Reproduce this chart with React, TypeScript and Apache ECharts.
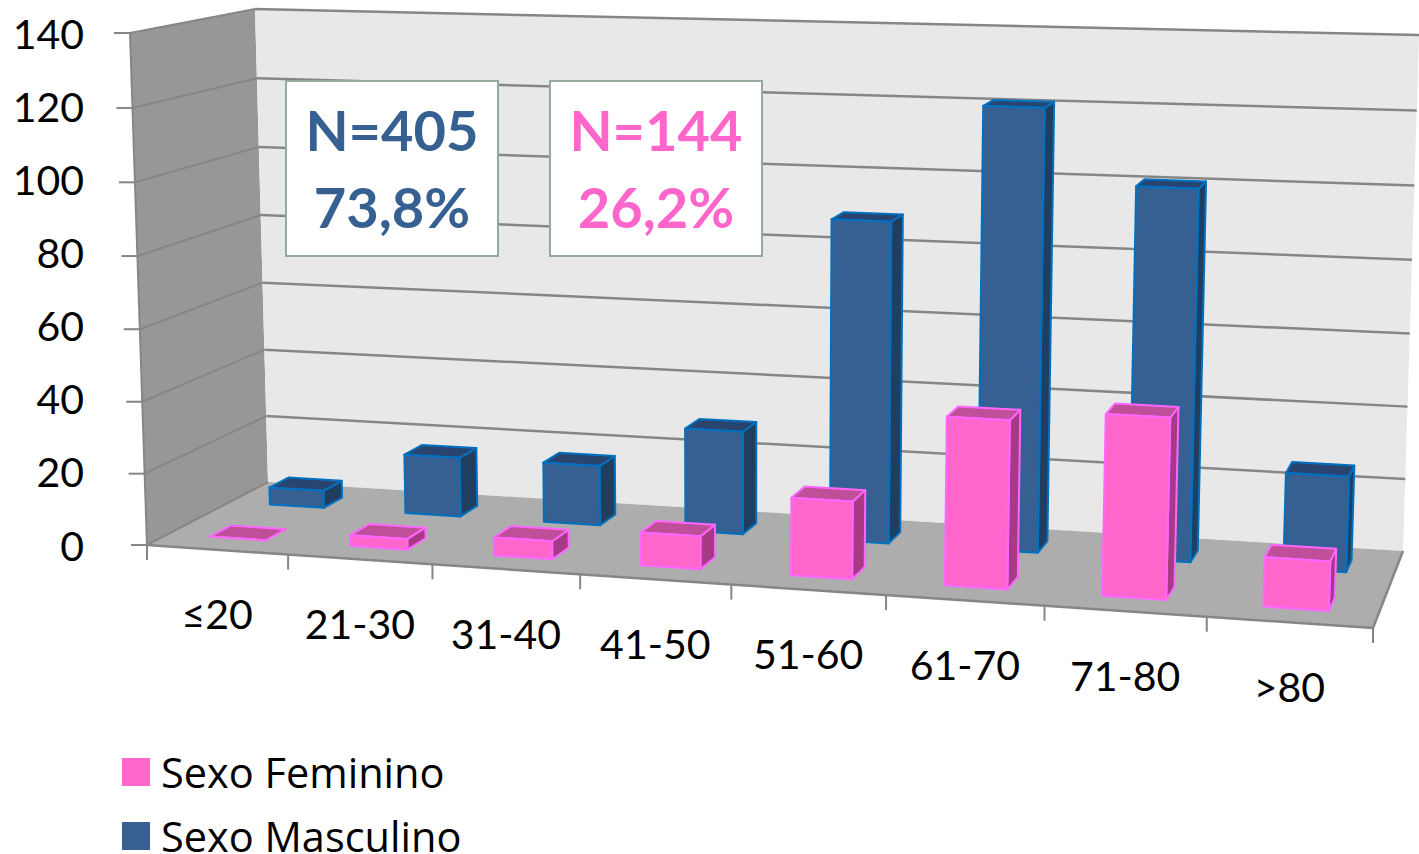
import React, { useEffect, useRef } from "react";
import * as echarts from "echarts";

const categories = ["≤20", "21-30", "31-40", "41-50", "51-60", "61-70", "71-80", ">80"];
const femaleValues = [0, 3, 5, 9, 21, 45, 48, 13];
const maleValues = [5, 17, 17, 29, 89, 121, 101, 26];
const yTicks = [0, 20, 40, 60, 80, 100, 120, 140];
const seriesNames = ["Sexo Feminino", "Sexo Masculino"];

const FONT = "Lato";
const LEGEND_FONT = "Open Sans";
const W = 1419, H = 854;
const G = { left: 130, right: 46, top: 33, bottom: 309 };

// corners of the chart box as seen in the picture: [front-left, front-right, back-right, back-left]
const FLOOR: number[][] = [[147, 545], [1373, 628], [1403, 551], [268, 482]];
const CEIL: number[][] = [[130, 33], [1391, 72], [1419, 35], [255, 9]];
// horizontal lean of the verticals from floor to ceiling at the same four corners
const LEAN = [-17, 18, 16, -13];
const U_WARP = 0.02;
const T_WARP = 0.029;

function homography(q: number[][]) {
  const [[x0, y0], [x1, y1], [x2, y2], [x3, y3]] = q;
  const dx1 = x1 - x2, dx2 = x3 - x2, sx = x0 - x1 + x2 - x3;
  const dy1 = y1 - y2, dy2 = y3 - y2, sy = y0 - y1 + y2 - y3;
  const den = dx1 * dy2 - dx2 * dy1;
  const g = (sx * dy2 - dx2 * sy) / den;
  const h = (dx1 * sy - sx * dy1) / den;
  const a = x1 - x0 + g * x1, b = x3 - x0 + h * x3;
  const d = y1 - y0 + g * y1, e = y3 - y0 + h * y3;
  return (u: number, v: number) => {
    const w = g * u + h * v + 1;
    return [(a * u + b * v + x0) / w, (d * u + e * v + y0) / w];
  };
}
const floorH = homography(FLOOR);
const ceilH = homography(CEIL);
// u: along the category axis 0..1, d: depth 0..1, t: height 0..1
function project(uIn: number, d: number, tIn: number) {
  const u = uIn + U_WARP * uIn * (1 - uIn);
  const t = tIn - T_WARP * tIn * (1 - tIn);
  const a = floorH(u, d), b = ceilH(u, d);
  const lean =
    (1 - d) * ((1 - u) * LEAN[0] + u * LEAN[1]) + d * ((1 - u) * LEAN[3] + u * LEAN[2]);
  return [a[0] + lean * t, a[1] + (b[1] - a[1]) * t];
}

const GRID_W = W - G.left - G.right;
const GRID_H = H - G.top - G.bottom;
const toU = (px: number) => (px - G.left) / GRID_W;
const toT = (py: number) => (H - G.bottom - py) / GRID_H;

const poly = (points: number[][], fill: string, stroke: string, lineWidth: number, z2 = 0) => ({
  type: "polygon",
  z2,
  shape: { points },
  style: { fill, stroke, lineWidth, lineJoin: "round" },
});
const seg = (a: number[], b: number[], stroke: string, lineWidth: number, z2 = 0) => ({
  type: "line",
  z2,
  shape: { x1: a[0], y1: a[1], x2: b[0], y2: b[1] },
  style: { stroke, lineWidth, fill: "none" },
});

function barRenderer(d0: number, d1: number, c: { front: string; top: string; side: string; line: string }) {
  return (_p: any, api: any) => {
    const base = api.coord([api.value(0), 0]);
    const top = api.coord([api.value(0), api.value(1)]);
    const half = (api.size([1, 0])[0] * 0.4) / 2;
    const u0 = toU(base[0] - half), u1 = toU(base[0] + half);
    const t = toT(top[1]);
    const f0 = project(u0, d0, 0), f1 = project(u1, d0, 0), f2 = project(u1, d0, t), f3 = project(u0, d0, t);
    const b1 = project(u1, d1, 0), b2 = project(u1, d1, t), b3 = project(u0, d1, t);
    return {
      type: "group",
      children: [
        poly([f1, b1, b2, f2], c.side, c.line, 2),
        poly([f3, f2, b2, b3], c.top, c.line, 2),
        poly([f0, f1, f2, f3], c.front, c.line, 2),
      ],
    };
  };
}

function renderFrame(_p: any, api: any) {
  const children: any[] = [];
  const lineColor = "#868686";
  const p = project;
  children.push(poly([p(0, 0, 0), p(0, 1, 0), p(0, 1, 1), p(0, 0, 1)], "#979797", "none", 0));
  children.push(poly([p(0, 1, 0), p(1, 1, 0), p(1, 1, 1), p(0, 1, 1)], "#e8e8e8", "none", 0));
  children.push(poly([p(0, 0, 0), p(1, 0, 0), p(1, 1, 0), p(0, 1, 0)], "#adadad", "none", 0));
  yTicks.forEach((v) => {
    const t = toT(api.coord([0, v])[1]);
    const a = p(0, 0, t), b = p(0, 1, t), c = p(1, 1, t);
    children.push(seg(a, b, lineColor, 2));
    if (v > 0) children.push(seg(b, c, lineColor, 2.5));
    children.push(seg([a[0] - 16, a[1]], a, lineColor, 2));
  });
  children.push(seg(p(0, 0, 0), p(0, 0, 1), lineColor, 2));
  children.push(seg(p(1, 0, 0), p(1, 1, 0), lineColor, 2.5));
  children.push(seg(p(0, 0, 0), p(1, 0, 0), lineColor, 2.5));
  const band = api.size([1, 0])[0];
  categories.forEach((name, i) => {
    const cx = api.coord([i, 0])[0];
    const a = p(toU(cx - band / 2), 0, 0);
    children.push(seg(a, [a[0], a[1] + 15], lineColor, 2));
    if (i === categories.length - 1) {
      const e = p(toU(cx + band / 2), 0, 0);
      children.push(seg(e, [e[0], e[1] + 15], lineColor, 2));
    }
    const m = p(toU(cx), 0, 0);
    children.push({
      type: "text",
      style: {
        text: name, x: m[0], y: m[1] + 64,
        fill: "#000", fontFamily: FONT, fontSize: 41, align: "center", verticalAlign: "middle",
      },
    });
  });
  return { type: "group", children };
}

function box(x: number, color: string, l1: string, l2: string) {
  const cx = x + 106;
  const txt = (text: string, y: number) => ({
    type: "text", z: 100,
    style: {
      text, x: cx, y, fill: color, fontFamily: FONT, fontWeight: "bold", fontSize: 56,
      align: "center", verticalAlign: "middle",
    },
  });
  return [
    {
      type: "rect", z: 99,
      shape: { x, y: 81, width: 212, height: 175 },
      style: { fill: "#fff", stroke: "#95a99c", lineWidth: 2 },
    },
    txt(l1, 129), txt(l2, 206),
  ];
}

export default function App() {
  const ref = useRef<HTMLDivElement>(null);
  useEffect(() => {
    document.body.style.margin = "0";
    const chart = echarts.init(ref.current!, null, { renderer: "svg" });
    chart.setOption({
      animation: false,
      backgroundColor: "#fff",
      grid: { ...G },
      xAxis: {
        type: "category", data: categories,
        axisLine: { show: false }, axisTick: { show: false }, axisLabel: { show: false },
      },
      yAxis: {
        type: "value", min: 0, max: 140, interval: 20,
        axisLine: { show: false }, axisTick: { show: false }, splitLine: { show: false },
        axisLabel: { margin: 46, color: "#000", fontFamily: FONT, fontSize: 41, padding: [5, 0, 0, 0] },
      },
      legend: {
        data: seriesNames, orient: "vertical", left: 122, top: 751, height: 140, padding: 0,
        itemWidth: 28, itemHeight: 28, itemGap: 22,
        icon: "rect",
        textStyle: { color: "#000", fontFamily: LEGEND_FONT, fontSize: 41.5, lineHeight: 36, padding: [0, 0, 0, 6] },
      },
      graphic: [...box(286, "#376092", "N=405", "73,8%"), ...box(550, "#ff66cc", "N=144", "26,2%")],
      series: [
        { type: "custom", name: "frame", z: 1, data: [[0, 0]], encode: { x: 0, y: 1 }, renderItem: renderFrame, silent: true },
        {
          type: "custom", name: seriesNames[1], z: 3, encode: { x: 0, y: 1 },
          itemStyle: { color: "#376092" },
          data: categories.map((_, i) => [i, maleValues[i]]),
          renderItem: barRenderer(4 / 6, 5 / 6, { front: "#376092", top: "#2a4470", side: "#203f60", line: "#0070c0" }),
        },
        {
          type: "custom", name: seriesNames[0], z: 4, encode: { x: 0, y: 1 },
          itemStyle: { color: "#ff66cc" },
          data: categories.map((_, i) => [i, femaleValues[i]]),
          renderItem: barRenderer(1 / 6, 2 / 6, { front: "#ff66cc", top: "#c04f9a", side: "#a63a85", line: "#ff66ff" }),
        },
      ],
    });
    return () => chart.dispose();
  }, []);
  return <div ref={ref} style={{ position: "absolute", left: 0, top: 0, width: W, height: H, overflow: "hidden" }} />;
}
